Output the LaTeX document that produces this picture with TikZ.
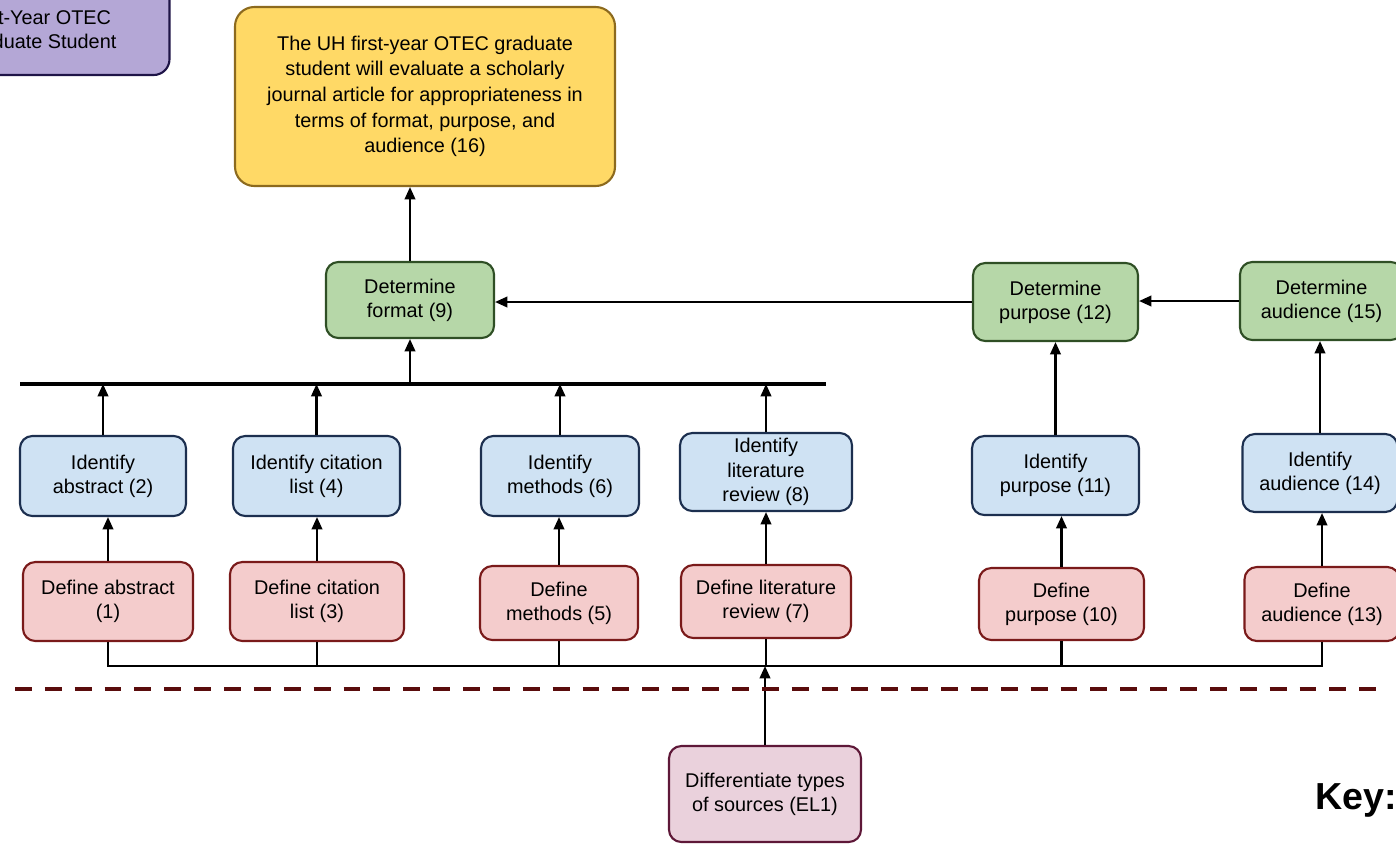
\documentclass[tikz,border=0pt]{standalone}
\usepackage{fontspec}
\setmainfont{Liberation Sans}
\usetikzlibrary{shapes,arrows,arrows.meta}

\definecolor{goalfill}{HTML}{FFD966}
\definecolor{goaldraw}{HTML}{8C6A1E}
\definecolor{detfill}{HTML}{B6D7A8}
\definecolor{detdraw}{HTML}{2F4F25}
\definecolor{idfill}{HTML}{CFE2F3}
\definecolor{iddraw}{HTML}{1C2F4F}
\definecolor{deffill}{HTML}{F4CCCC}
\definecolor{defdraw}{HTML}{7A1A1A}
\definecolor{elfill}{HTML}{EAD1DC}
\definecolor{eldraw}{HTML}{5E1838}
\definecolor{learnfill}{HTML}{B4A7D6}
\definecolor{learndraw}{HTML}{1E1447}
\definecolor{divide}{HTML}{5A0C0C}

\begin{document}
\begin{tikzpicture}[scale=1.0000]
	\tikzstyle{every node}=[scale=1.0000, font=\fontsize{11.3}{13.8}\selectfont, align=center, inner sep=0pt]
	\tikzstyle{box}=[draw, line width=1.2pt, rounded corners=7pt]
	\tikzstyle{goalbox}=[box, fill=goalfill, draw=goaldraw, rounded corners=11pt, font=\fontsize{11.3}{14.6}\selectfont]
	\tikzstyle{detbox}=[box, fill=detfill, draw=detdraw]
	\tikzstyle{idbox}=[box, fill=idfill, draw=iddraw]
	\tikzstyle{defbox}=[box, fill=deffill, draw=defdraw]
	\tikzstyle{elbox}=[box, fill=elfill, draw=eldraw]
	\tikzstyle{learnbox}=[box, fill=learnfill, draw=learndraw, rounded corners=9pt]
	\tikzstyle{arr}=[line width=1.2pt, -{Triangle[length=7pt,width=6pt]}]
	\tikzstyle{wire}=[line width=1.2pt]

	\useasboundingbox (0.0000,0.0000) rectangle (27.9200,-16.8800);

	% learner box, cut by the top left corner
	\node [learnbox, minimum width=5.3000cm, minimum height=2.4000cm]  (learnerbox) at (0.7400,-0.3000)  {};
	\node (learner) at (0.7600,-0.5900)  {First-Year OTEC\\Graduate Student};

	% goal
	\node [goalbox, minimum width=7.6000cm, minimum height=3.5800cm]  (goal) at (8.5000,-1.9300)  {The UH first-year OTEC graduate\\student will evaluate a scholarly\\journal article for appropriateness in\\terms of format, purpose, and\\audience (16)};

	% determine row
	\node [detbox, minimum width=3.3600cm, minimum height=1.5200cm]  (format) at (8.2000,-6.0000)  {Determine\\format (9)};
	\node [detbox, minimum width=3.3000cm, minimum height=1.5600cm]  (purpose) at (21.1100,-6.0400)  {Determine\\purpose (12)};
	\node [detbox, minimum width=3.2600cm, minimum height=1.5600cm]  (audience) at (26.4300,-6.0200)  {Determine\\audience (15)};

	% identify row
	\node [idbox, minimum width=3.3200cm, minimum height=1.6000cm]  (idabstract) at (2.0600,-9.5200)  {Identify\\abstract (2)};
	\node [idbox, minimum width=3.3400cm, minimum height=1.6000cm]  (idcitation) at (6.3300,-9.5200)  {Identify citation\\list (4)};
	\node [idbox, minimum width=3.1600cm, minimum height=1.6000cm]  (idmethods) at (11.2000,-9.5200)  {Identify\\methods (6)};
	\node [idbox, minimum width=3.4400cm, minimum height=1.5600cm]  (idreview) at (15.3200,-9.4400)  {Identify\\literature\\review (8)};
	\node [idbox, minimum width=3.3400cm, minimum height=1.5800cm]  (idpurpose) at (21.1100,-9.5100)  {Identify\\purpose (11)};
	\node [idbox, minimum width=3.1000cm, minimum height=1.5600cm]  (idaudience) at (26.4000,-9.4600)  {Identify\\audience (14)};

	% define row
	\node [defbox, minimum width=3.4000cm, minimum height=1.5800cm]  (defabstract) at (2.1600,-12.0300)  {Define abstract\\(1)};
	\node [defbox, minimum width=3.4800cm, minimum height=1.5800cm]  (defcitation) at (6.3400,-12.0300)  {Define citation\\list (3)};
	\node [defbox, minimum width=3.1600cm, minimum height=1.4800cm]  (defmethods) at (11.1800,-12.0600)  {Define\\methods (5)};
	\node [defbox, minimum width=3.4000cm, minimum height=1.4600cm]  (defreview) at (15.3200,-12.0300)  {Define literature\\review (7)};
	\node [defbox, minimum width=3.3000cm, minimum height=1.4400cm]  (defpurpose) at (21.2300,-12.0800)  {Define\\purpose (10)};
	\node [defbox, minimum width=3.1000cm, minimum height=1.4800cm]  (defaudience) at (26.4400,-12.0800)  {Define\\audience (13)};

	% entry level skill
	\node [elbox, minimum width=3.8400cm, minimum height=1.9200cm]  (sources) at (15.3000,-15.8800)  {Differentiate types\\of sources (EL1)};

	\node [font=\bfseries\fontsize{21.4}{24}\selectfont]  (key) at (27.1200,-16.0000)  {Key:};

	\coordinate (barL) at (0.4000,-7.6800);
	\coordinate (barR) at (16.5200,-7.6800);
	\coordinate (bus) at (0.0000,-13.3200);
	\coordinate (dashL) at (0.3000,-13.7800);
	\coordinate (dashR) at (27.6000,-13.7800);

	% top
	\draw [arr]  (format.north) -- (goal.south -| format.north);
	\draw [arr]  (purpose.west) -- (purpose.west -| format.east);
	\draw [arr]  (audience.west) -- (audience.west -| purpose.east);

	% bar
	\draw [line width=2.3pt]  (barL) -- (barR);
	\draw [arr]  (barL -| format.south) -- (format.south);
	\draw [arr]  (idabstract.north) -- (barL -| idabstract.north);
	\draw [arr]  (idcitation.north) -- (barL -| idcitation.north);
	\draw [arr]  (idmethods.north) -- (barL -| idmethods.north);
	\draw [arr]  (idreview.north) -- (barL -| idreview.north);
	\draw [arr]  (idpurpose.north) -- (purpose.south);
	\draw [arr]  (idaudience.north) -- (idaudience.north |- audience.south);

	% define to identify
	\draw [arr]  (defabstract.north) -- (defabstract.north |- idabstract.south);
	\draw [arr]  (defcitation.north) -- (defcitation.north |- idcitation.south);
	\draw [arr]  (defmethods.north) -- (defmethods.north |- idmethods.south);
	\draw [arr]  (defreview.north) -- (defreview.north |- idreview.south);
	\draw [arr]  (defpurpose.north) -- (defpurpose.north |- idpurpose.south);
	\draw [arr]  (defaudience.north) -- (defaudience.north |- idaudience.south);

	% bus
	\draw [wire]  (defabstract.south) -- (defabstract.south |- bus) -- (defaudience.south |- bus) -- (defaudience.south);
	\draw [wire]  (defcitation.south) -- (defcitation.south |- bus);
	\draw [wire]  (defmethods.south) -- (defmethods.south |- bus);
	\draw [wire]  (defreview.south) -- (defreview.south |- bus);
	\draw [wire]  (defpurpose.south) -- (defpurpose.south |- bus);
	\draw [arr]  (sources.north) -- (sources.north |- bus);

	% dividing line
	\draw [divide, line width=2.8pt, dash pattern=on 9.6pt off 7.4pt]  (dashL) -- (dashR);

\end{tikzpicture}
\end{document}
